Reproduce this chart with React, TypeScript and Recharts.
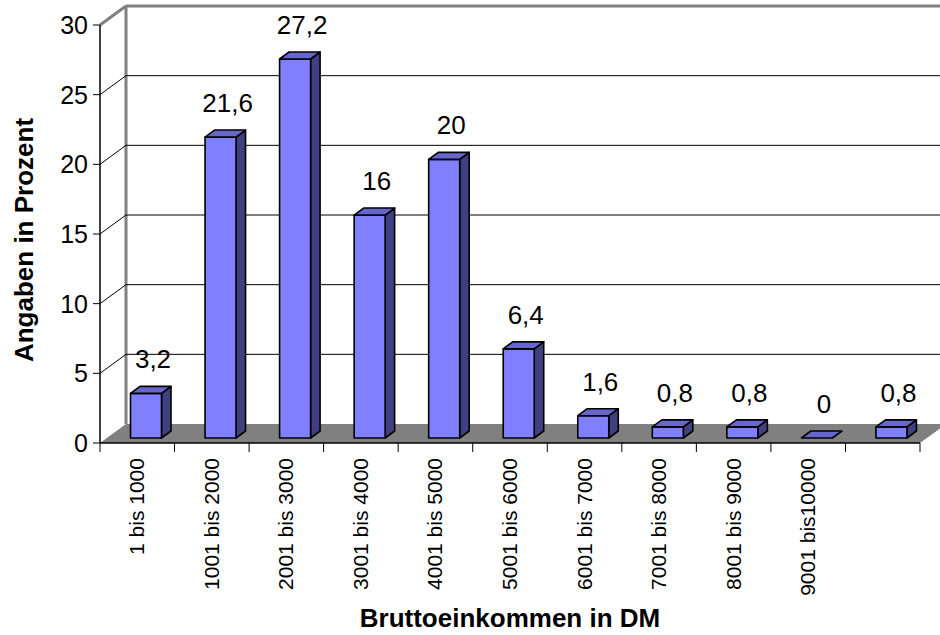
import { ComposedChart, Bar, XAxis, YAxis, CartesianGrid, LabelList, Label } from 'recharts';

const incomeRanges = [
    '1 bis 1000',
    '1001 bis 2000',
    '2001 bis 3000',
    '3001 bis 4000',
    '4001 bis 5000',
    '5001 bis 6000',
    '6001 bis 7000',
    '7001 bis 8000',
    '8001 bis 9000',
    '9001 bis10000',
    '',
];
const percentages = [3.2, 21.6, 27.2, 16, 20, 6.4, 1.6, 0.8, 0.8, 0, 0.8];
const percentTicks = [0, 5, 10, 15, 20, 25, 30];

const data = incomeRanges.map((range, i) => ({ range, share: percentages[i] }));

// chart geometry (front plane of the 3d box)
const W = 940;
const H = 635;
const PLOT_LEFT = 100;
const PLOT_RIGHT = 920;
const PLOT_TOP = 25;
const PLOT_BOTTOM = 443;
const BAND = (PLOT_RIGHT - PLOT_LEFT) / incomeRanges.length;

// depth of the walls / of the columns
const WALL_X = 26;
const WALL_Y = -19;
const SHIFT_X = 8.5;
const SHIFT_Y = -5;
const DEPTH_X = 9.5;
const DEPTH_Y = -7;

const FONT = '"Liberation Sans", Arial, sans-serif';

const Column3D = (props: any) => {
    const { x, y, width, height } = props;
    const h = Math.max(height || 0, 0);
    const fx = x + SHIFT_X;
    const fy = y + SHIFT_Y;
    const side = [
        [fx + width, fy],
        [fx + width + DEPTH_X, fy + DEPTH_Y],
        [fx + width + DEPTH_X, fy + h + DEPTH_Y],
        [fx + width, fy + h],
    ];
    const top = [
        [fx, fy],
        [fx + DEPTH_X, fy + DEPTH_Y],
        [fx + width + DEPTH_X, fy + DEPTH_Y],
        [fx + width, fy],
    ];
    const pts = (p: number[][]) => p.map((q) => q.join(',')).join(' ');
    return (
        <g stroke="#000" strokeWidth={1.6} strokeLinejoin="round">
            {h > 0 && <polygon points={pts(side)} fill="#404080" />}
            {h > 0 && <rect x={fx} y={fy} width={width} height={h} fill="#8080FF" />}
            <polygon points={pts(top)} fill="#6666CC" />
        </g>
    );
};

const ValueLabel = (props: any) => {
    const { x, y, width, value } = props;
    return (
        <text
            x={x + SHIFT_X + width / 2 + 7}
            y={y + SHIFT_Y - 25}
            textAnchor="middle"
            fontSize={26}
            fontFamily={FONT}
            fill="#000"
        >
            {String(value).replace('.', ',')}
        </text>
    );
};

const WallLine = (p: any) => {
    const { x1, y1 } = p;
    const bx = x1 + WALL_X;
    const by = y1 + WALL_Y;
    if (y1 > PLOT_BOTTOM - 1) {
        const floor = [
            [PLOT_LEFT, PLOT_BOTTOM],
            [PLOT_RIGHT, PLOT_BOTTOM],
            [PLOT_RIGHT + WALL_X, PLOT_BOTTOM + WALL_Y],
            [PLOT_LEFT + WALL_X, PLOT_BOTTOM + WALL_Y],
        ];
        return (
            <g key={p.key}>
                <line x1={PLOT_LEFT + WALL_X} y1={PLOT_TOP + WALL_Y} x2={PLOT_LEFT + WALL_X} y2={PLOT_BOTTOM + WALL_Y} stroke="#808080" strokeWidth={3} />
                <polygon points={floor.map((q) => q.join(',')).join(' ')} fill="#808080" />
            </g>
        );
    }
    if (y1 < PLOT_TOP + 1) {
        return (
            <g key={p.key} stroke="#808080" strokeWidth={3}>
                <line x1={x1} y1={y1} x2={bx} y2={by} />
                <line x1={bx} y1={by} x2={W} y2={by} />
            </g>
        );
    }
    return (
        <g key={p.key} stroke="#000" strokeWidth={1}>
            <line x1={x1} y1={y1} x2={bx} y2={by} />
            <line x1={bx} y1={by} x2={W} y2={by} />
        </g>
    );
};

const RangeTick = (props: any) => {
    const { x, payload, index } = props;
    const last = index === incomeRanges.length - 1;
    return (
        <g>
            <line x1={x - BAND / 2} y1={PLOT_BOTTOM} x2={x - BAND / 2} y2={PLOT_BOTTOM + 9} stroke="#000" />
            {last && <line x1={x + BAND / 2} y1={PLOT_BOTTOM} x2={x + BAND / 2} y2={PLOT_BOTTOM + 9} stroke="#000" />}
            <text
                x={x + 7}
                y={PLOT_BOTTOM + 15}
                transform={`rotate(-90 ${x + 7} ${PLOT_BOTTOM + 15})`}
                textAnchor="end"
                fontSize={21}
                fontFamily={FONT}
                fill="#000"
            >
                {payload.value}
            </text>
        </g>
    );
};

const YTitle = () => (
    <text x={33} y={240} transform="rotate(-90 33 240)" textAnchor="middle" fontSize={26} fontWeight="bold" fontFamily={FONT} fill="#000">
        Angaben in Prozent
    </text>
);

const XTitle = () => (
    <text x={510} y={627} textAnchor="middle" fontSize={26} fontWeight="bold" fontFamily={FONT} fill="#000">
        Bruttoeinkommen in DM
    </text>
);

export default function App() {
    return (
        <div style={{ position: 'absolute', left: 0, top: 0, width: W, height: H, background: '#fff' }}>
            <ComposedChart
                width={W}
                height={H}
                data={data}
                margin={{ top: PLOT_TOP, right: W - PLOT_RIGHT, left: 0, bottom: 0 }}
            >
                <CartesianGrid vertical={false} horizontal={WallLine} />
                <XAxis
                    dataKey="range"
                    interval={0}
                    height={H - PLOT_BOTTOM - PLOT_TOP + PLOT_TOP}
                    tickLine={false}
                    axisLine={{ stroke: '#000', strokeWidth: 1.5 }}
                    tick={RangeTick}
                >
                    <Label content={XTitle} />
                </XAxis>
                <YAxis
                    width={PLOT_LEFT}
                    domain={[0, 30]}
                    ticks={percentTicks}
                    tickSize={7}
                    tickMargin={5}
                    axisLine={{ stroke: '#000', strokeWidth: 1.5 }}
                    tickLine={{ stroke: '#000' }}
                    tick={{ fontSize: 25, fontFamily: FONT, fill: '#000' }}
                >
                    <Label content={YTitle} />
                </YAxis>
                <Bar dataKey="share" barSize={31} shape={Column3D} isAnimationActive={false}>
                    <LabelList dataKey="share" content={ValueLabel} />
                </Bar>
            </ComposedChart>
        </div>
    );
}
